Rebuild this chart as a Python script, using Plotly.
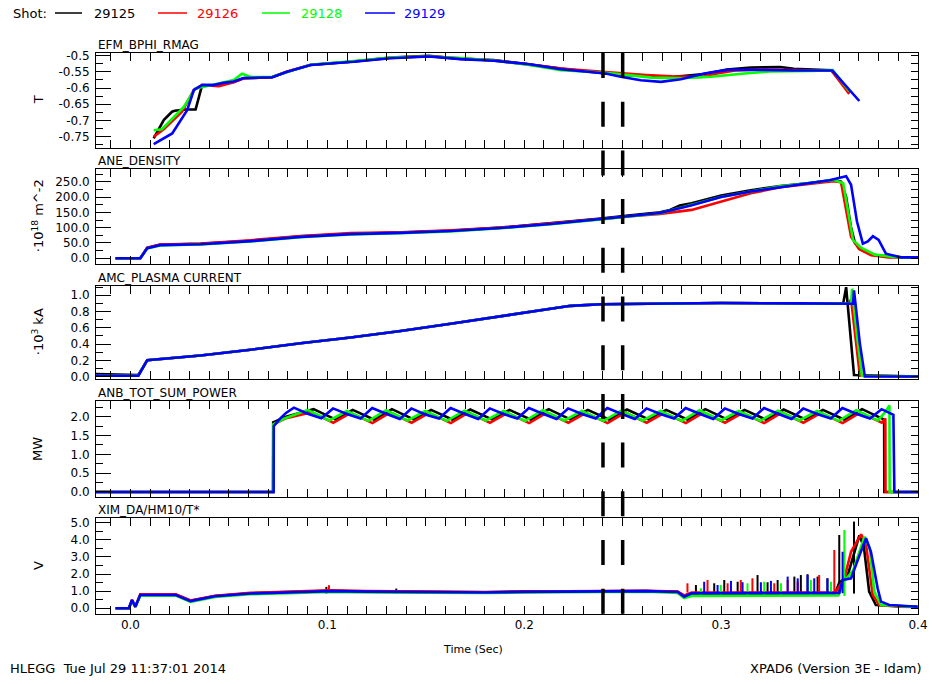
import plotly.graph_objects as go

# ---------------------------------------------------------------- shots
shots = ["29125", "29126", "29128", "29129"]
colors = ["#000000", "#ff0000", "#00ff00", "#0000ff"]

# ---------------------------------------------------------------- EFM_BPHI_RMAG (T)
bphi_t_29125 = [0.0118, 0.0169, 0.0211, 0.0225, 0.0280, 0.0331, 0.0364, 0.0450, 0.0524, 0.0575, 0.0720,
                0.0796, 0.0915, 0.1134, 0.1320, 0.1515, 0.1677, 0.1845, 0.2016, 0.2186, 0.2414, 0.2490,
                0.2620, 0.2750, 0.2900, 0.3030, 0.3150, 0.3300, 0.3370, 0.3560, 0.3651]
bphi_v_29125 = [-0.755, -0.699, -0.673, -0.670, -0.666, -0.666, -0.591, -0.590, -0.581, -0.570, -0.567,
                -0.550, -0.529, -0.518, -0.506, -0.501, -0.510, -0.514, -0.526, -0.540, -0.555, -0.560,
                -0.563, -0.566, -0.558, -0.543, -0.537, -0.535, -0.541, -0.545, -0.612]
bphi_t_29126 = [0.0118, 0.0169, 0.0262, 0.0322, 0.0364, 0.0450, 0.0524, 0.0575, 0.0720, 0.0796, 0.0915,
                0.1134, 0.1320, 0.1515, 0.1677, 0.1845, 0.2016, 0.2186, 0.2414, 0.2490, 0.2620, 0.2750,
                0.2900, 0.2980, 0.3070, 0.3200, 0.3370, 0.3560, 0.3651]
bphi_v_29126 = [-0.750, -0.727, -0.673, -0.606, -0.591, -0.594, -0.582, -0.570, -0.566, -0.549, -0.528,
                -0.518, -0.507, -0.502, -0.508, -0.515, -0.527, -0.540, -0.551, -0.555, -0.560, -0.564,
                -0.566, -0.555, -0.546, -0.543, -0.544, -0.546, -0.618]
bphi_t_29128 = [0.0118, 0.0160, 0.0271, 0.0330, 0.0420, 0.0524, 0.0567, 0.0610, 0.0720, 0.0796, 0.0915,
                0.1134, 0.1320, 0.1515, 0.1700, 0.1845, 0.2016, 0.2186, 0.2414, 0.2490, 0.2650, 0.2800,
                0.2948, 0.3117, 0.3250, 0.3450, 0.3567, 0.3651]
bphi_v_29128 = [-0.730, -0.727, -0.658, -0.601, -0.590, -0.575, -0.556, -0.566, -0.565, -0.550, -0.528,
                -0.517, -0.506, -0.503, -0.508, -0.515, -0.528, -0.545, -0.553, -0.558, -0.568, -0.570,
                -0.565, -0.555, -0.549, -0.547, -0.545, -0.610]
bphi_t_29129 = [0.0118, 0.0212, 0.0288, 0.0322, 0.0364, 0.0420, 0.0473, 0.0524, 0.0575, 0.0720, 0.0796,
                0.0915, 0.1134, 0.1320, 0.1515, 0.1677, 0.1845, 0.2016, 0.2186, 0.2414, 0.2490, 0.2592,
                0.2694, 0.2795, 0.2914, 0.3033, 0.3202, 0.3370, 0.3565, 0.3702]
bphi_v_29129 = [-0.773, -0.740, -0.668, -0.606, -0.591, -0.591, -0.584, -0.580, -0.569, -0.567, -0.550,
                -0.529, -0.519, -0.508, -0.503, -0.511, -0.516, -0.526, -0.542, -0.555, -0.565, -0.576,
                -0.581, -0.573, -0.555, -0.544, -0.544, -0.546, -0.546, -0.640]

# ---------------------------------------------------------------- ANE_DENSITY (1e18 m^-2)
ne_t_29125 = [-0.0076, 0.0050, 0.0085, 0.0150, 0.0356, 0.0610, 0.0864, 0.1118, 0.1370, 0.1626, 0.1880,
              0.2135, 0.2389, 0.2540, 0.2690, 0.2740, 0.2790, 0.2850, 0.3000, 0.3150, 0.3300, 0.3450,
              0.3570, 0.3609, 0.3635, 0.3660, 0.3680, 0.3720, 0.3787, 0.3914, 0.4000]
ne_v_29125 = [0, 0, 34, 44, 47, 57, 72, 80, 84, 90, 100, 114, 130, 140, 150, 158, 172, 180, 205, 222,
              236, 246, 255, 250, 200, 100, 50, 25, 10, 3, 2]
ne_t_29126 = [-0.0076, 0.0050, 0.0085, 0.0150, 0.0356, 0.0610, 0.0864, 0.1118, 0.1370, 0.1626, 0.1880,
              0.2135, 0.2389, 0.2540, 0.2690, 0.2850, 0.3000, 0.3150, 0.3300, 0.3450, 0.3570, 0.3609,
              0.3635, 0.3660, 0.3700, 0.3762, 0.3850, 0.4000]
ne_v_29126 = [0, 0, 35, 45, 48, 59, 73, 82, 85, 91, 100, 113, 128, 137, 145, 158, 185, 212, 232, 242,
              252, 248, 150, 70, 30, 10, 3, 2]
ne_t_29128 = [-0.0076, 0.0050, 0.0085, 0.0150, 0.0356, 0.0610, 0.0864, 0.1118, 0.1370, 0.1626, 0.1880,
              0.2135, 0.2389, 0.2540, 0.2690, 0.2850, 0.3000, 0.3150, 0.3300, 0.3450, 0.3570, 0.3620,
              0.3645, 0.3670, 0.3710, 0.3780, 0.3900, 0.4000]
ne_v_29128 = [0, 0, 32, 42, 45, 55, 69, 78, 82, 88, 98, 111, 127, 137, 147, 175, 200, 218, 235, 246,
              256, 245, 150, 60, 35, 12, 3, 2]
ne_t_29129 = [-0.0076, 0.0050, 0.0085, 0.0150, 0.0356, 0.0610, 0.0864, 0.1118, 0.1370, 0.1626, 0.1880,
              0.2135, 0.2389, 0.2540, 0.2690, 0.2846, 0.3000, 0.3150, 0.3300, 0.3450, 0.3550, 0.3635,
              0.3660, 0.3690, 0.3720, 0.3745, 0.3771, 0.3800, 0.3837, 0.3914, 0.4000]
ne_v_29129 = [0, 0, 33, 43, 46, 56, 70, 79, 83, 89, 99, 112, 128, 138, 148, 172, 200, 218, 232, 245,
              255, 268, 240, 120, 48, 55, 72, 60, 15, 3, 3]

# ---------------------------------------------------------------- AMC_PLASMA CURRENT (1e3 kA)
ip_t_29125 = [-0.0175, 0.0040, 0.0085, 0.0356, 0.0610, 0.0864, 0.1118, 0.1372, 0.1626, 0.1881, 0.2084,
              0.2236, 0.2389, 0.2643, 0.3000, 0.3400, 0.3620, 0.3635, 0.3655, 0.3675, 0.4000]
ip_v_29125 = [0.03, 0.02, 0.20, 0.26, 0.33, 0.41, 0.48, 0.56, 0.65, 0.74, 0.82,
              0.87, 0.89, 0.90, 0.905, 0.90, 0.895, 1.10, 0.60, 0.02, 0.00]
ip_t_29126 = [-0.0175, 0.0040, 0.0085, 0.0356, 0.0610, 0.0864, 0.1118, 0.1372, 0.1626, 0.1881, 0.2084,
              0.2236, 0.2389, 0.2643, 0.3000, 0.3400, 0.3650, 0.3660, 0.3685, 0.3705, 0.4000]
ip_v_29126 = [0.01, 0.01, 0.20, 0.26, 0.33, 0.41, 0.48, 0.56, 0.65, 0.74, 0.82,
              0.87, 0.89, 0.90, 0.905, 0.90, 0.895, 0.95, 0.40, 0.01, 0.00]
ip_t_29128 = [-0.0175, 0.0040, 0.0085, 0.0356, 0.0610, 0.0864, 0.1118, 0.1372, 0.1626, 0.1881, 0.2084,
              0.2236, 0.2389, 0.2643, 0.3000, 0.3400, 0.3660, 0.3665, 0.3690, 0.3715, 0.4000]
ip_v_29128 = [0.01, 0.01, 0.20, 0.26, 0.33, 0.41, 0.48, 0.56, 0.65, 0.74, 0.82,
              0.87, 0.89, 0.90, 0.905, 0.90, 0.895, 1.08, 0.50, 0.01, 0.00]
ip_t_29129 = [-0.0175, 0.0040, 0.0085, 0.0356, 0.0610, 0.0864, 0.1118, 0.1372, 0.1626, 0.1881, 0.2084,
              0.2236, 0.2389, 0.2643, 0.3000, 0.3400, 0.3670, 0.3675, 0.3705, 0.3730, 0.4000]
ip_v_29129 = [0.01, 0.01, 0.20, 0.26, 0.33, 0.41, 0.48, 0.56, 0.65, 0.74, 0.82,
              0.87, 0.89, 0.90, 0.905, 0.90, 0.895, 1.06, 0.40, 0.00, 0.00]

# ---------------------------------------------------------------- ANB_TOT_SUM_POWER (MW)
nbi_t_29125 = [-0.0175, 0.0724, 0.0725, 0.0790,
               0.0930, 0.1040, 0.1129, 0.1239, 0.1328, 0.1438, 0.1527, 0.1637, 0.1726, 0.1836,
               0.1925, 0.2035, 0.2124, 0.2234, 0.2323, 0.2433, 0.2522, 0.2632, 0.2721, 0.2831,
               0.2920, 0.3030, 0.3119, 0.3229, 0.3318, 0.3428, 0.3517, 0.3627, 0.3716, 0.3826,
               0.3828, 0.3829, 0.4000]
nbi_p_29125 = [0.0, 0.0, 1.85, 2.00,
               2.20, 1.93, 2.18, 1.92, 2.20, 1.93, 2.18, 1.92, 2.19, 1.93,
               2.18, 1.92, 2.20, 1.93, 2.18, 1.92, 2.19, 1.93, 2.18, 1.92,
               2.20, 1.93, 2.18, 1.92, 2.19, 1.93, 2.18, 1.92, 2.20, 1.93,
               1.95, 0.0, 0.0]
nbi_t_29126 = [-0.0175, 0.0726, 0.0727, 0.0785,
               0.0920, 0.1030, 0.1119, 0.1229, 0.1318, 0.1428, 0.1517, 0.1627, 0.1716, 0.1826,
               0.1915, 0.2025, 0.2114, 0.2224, 0.2313, 0.2423, 0.2512, 0.2622, 0.2711, 0.2821,
               0.2910, 0.3020, 0.3109, 0.3219, 0.3308, 0.3418, 0.3507, 0.3617, 0.3706, 0.3816,
               0.3834, 0.3835, 0.4000]
nbi_p_29126 = [0.0, 0.0, 1.80, 1.95,
               2.12, 1.84, 2.10, 1.83, 2.11, 1.84, 2.10, 1.83, 2.11, 1.84,
               2.10, 1.83, 2.11, 1.84, 2.10, 1.83, 2.11, 1.84, 2.10, 1.83,
               2.11, 1.84, 2.10, 1.83, 2.11, 1.84, 2.10, 1.83, 2.11, 1.84,
               1.95, 0.0, 0.0]
nbi_t_29128 = [-0.0175, 0.0725, 0.0726, 0.0780,
               0.0900, 0.1010, 0.1099, 0.1209, 0.1298, 0.1408, 0.1497, 0.1607, 0.1696, 0.1806,
               0.1895, 0.2005, 0.2094, 0.2204, 0.2293, 0.2403, 0.2492, 0.2602, 0.2691, 0.2801,
               0.2890, 0.3000, 0.3089, 0.3199, 0.3288, 0.3398, 0.3487, 0.3597, 0.3686, 0.3796,
               0.3830, 0.3855, 0.3856, 0.4000]
nbi_p_29128 = [0.0, 0.0, 1.80, 1.95,
               2.18, 1.90, 2.15, 1.89, 2.17, 1.90, 2.15, 1.89, 2.16, 1.90,
               2.15, 1.89, 2.17, 1.90, 2.15, 1.89, 2.16, 1.90, 2.15, 1.89,
               2.17, 1.90, 2.15, 1.89, 2.16, 1.90, 2.15, 1.89, 2.17, 1.90,
               2.10, 2.30, 0.0, 0.0]
nbi_t_29129 = [-0.0175, 0.0727, 0.0728, 0.0760, 0.0790,
               0.0830, 0.0900, 0.0970, 0.1029, 0.1099, 0.1169, 0.1228, 0.1298, 0.1368,
               0.1427, 0.1497, 0.1567, 0.1626, 0.1696, 0.1766, 0.1825, 0.1895, 0.1965,
               0.2024, 0.2094, 0.2164, 0.2223, 0.2293, 0.2363, 0.2422, 0.2492, 0.2562,
               0.2621, 0.2691, 0.2761, 0.2820, 0.2890, 0.2960, 0.3019, 0.3089, 0.3159,
               0.3218, 0.3288, 0.3358, 0.3417, 0.3487, 0.3557, 0.3616, 0.3686, 0.3756,
               0.3815, 0.3875, 0.3880, 0.4000]
nbi_p_29129 = [0.0, 0.0, 1.75, 1.95, 2.10,
               2.24, 2.08, 1.96, 2.22, 2.07, 1.95, 2.23, 2.08, 1.94,
               2.22, 2.06, 1.95, 2.23, 2.08, 1.94, 2.22, 2.07, 1.95,
               2.23, 2.08, 1.94, 2.22, 2.07, 1.95, 2.23, 2.08, 1.94,
               2.22, 2.07, 1.95, 2.23, 2.08, 1.94, 2.22, 2.07, 1.95,
               2.23, 2.08, 1.94, 2.22, 2.07, 1.95, 2.23, 2.08, 1.95,
               2.20, 2.05, 0.0, 0.0]

# ---------------------------------------------------------------- XIM_DA/HM10/T* (V)
xim_t_29125 = [-0.0076, -0.0008, 0.0008, 0.0025, 0.0050, 0.0150, 0.0230, 0.0305, 0.0430, 0.0610, 0.0860,
               0.1016, 0.1200, 0.1500, 0.1800, 0.2000, 0.2400, 0.2620, 0.2779, 0.2812, 0.2850, 0.3580,
               0.3600, 0.3640, 0.3702, 0.3725, 0.3752, 0.3786, 0.3998]
xim_v_29125 = [0.0, 0.0, 0.45, 0.08, 0.80, 0.82, 0.80, 0.44, 0.72, 0.88, 0.97,
               1.02, 0.98, 0.95, 0.94, 0.98, 1.02, 1.01, 0.96, 0.72, 0.86, 0.88,
               1.50, 1.80, 4.25, 3.60, 0.97, 0.19, 0.08]
xim_t_29126 = [-0.0076, -0.0008, 0.0008, 0.0025, 0.0050, 0.0150, 0.0230, 0.0305, 0.0430, 0.0610, 0.0860,
               0.1016, 0.1200, 0.1500, 0.1800, 0.2000, 0.2400, 0.2620, 0.2779, 0.2812, 0.2850, 0.3580,
               0.3625, 0.3660, 0.3711, 0.3735, 0.3770, 0.3803, 0.3900, 0.3998]
xim_v_29126 = [0.0, 0.0, 0.50, 0.10, 0.82, 0.84, 0.82, 0.46, 0.73, 0.90, 0.98,
               1.05, 1.00, 0.96, 0.95, 0.98, 1.03, 1.02, 0.98, 0.75, 0.92, 0.92,
               1.70, 3.30, 4.32, 3.80, 0.78, 0.19, 0.10, 0.08]
xim_t_29128 = [-0.0076, -0.0008, 0.0008, 0.0025, 0.0050, 0.0150, 0.0230, 0.0305, 0.0430, 0.0610, 0.0860,
               0.1016, 0.1200, 0.1500, 0.1800, 0.2000, 0.2400, 0.2620, 0.2779, 0.2812, 0.2850, 0.3595,
               0.3626, 0.3670, 0.3728, 0.3755, 0.3778, 0.3812, 0.3998]
xim_v_29128 = [0.0, 0.0, 0.40, 0.10, 0.75, 0.76, 0.74, 0.38, 0.66, 0.82, 0.92,
               0.96, 0.93, 0.90, 0.89, 0.93, 0.98, 0.97, 0.90, 0.60, 0.72, 0.75,
               1.60, 2.20, 4.18, 3.50, 0.97, 0.19, 0.07]
xim_t_29129 = [-0.0076, -0.0008, 0.0008, 0.0025, 0.0050, 0.0150, 0.0230, 0.0305, 0.0430, 0.0610, 0.0860,
               0.1016, 0.1200, 0.1500, 0.1800, 0.2000, 0.2400, 0.2620, 0.2779, 0.2812, 0.2850, 0.3600,
               0.3617, 0.3660, 0.3700, 0.3736, 0.3761, 0.3795, 0.3812, 0.3854, 0.3998]
xim_v_29129 = [0.0, 0.0, 0.48, 0.10, 0.78, 0.80, 0.78, 0.42, 0.70, 0.86, 0.95,
               1.00, 0.97, 0.93, 0.92, 0.96, 1.00, 1.00, 0.95, 0.68, 0.88, 0.90,
               1.65, 1.75, 3.00, 4.09, 3.30, 1.17, 0.39, 0.19, 0.09]

# short bursts on top of the XIM baseline: time, peak level, baseline level
burst_t_29125 = [0.0995, 0.1350, 0.2872, 0.2965, 0.3016, 0.3084, 0.3185, 0.3236, 0.3287, 0.3372,
                 0.3405, 0.3439, 0.3490, 0.3540, 0.3600, 0.3675]
burst_h_29125 = [1.25, 1.15, 1.36, 1.46, 1.65, 1.55, 1.94, 1.52, 1.65, 1.85,
                 1.94, 1.99, 1.85, 1.75, 4.28, 5.06]
burst_t_29126 = [0.1008, 0.2829, 0.2931, 0.3033, 0.3100, 0.3159, 0.3270, 0.3338, 0.3389, 0.3498, 0.3575]
burst_h_29126 = [1.35, 1.46, 1.65, 1.46, 1.65, 1.75, 1.46, 1.65, 1.55, 1.94, 3.40]
burst_t_29128 = [0.2897, 0.2998, 0.3134, 0.3219, 0.3304, 0.3456, 0.3558, 0.3626]
burst_h_29128 = [1.17, 1.36, 1.46, 1.55, 1.46, 1.65, 1.55, 4.57]
burst_t_29129 = [0.2914, 0.2982, 0.3050, 0.3109, 0.3202, 0.3253, 0.3338, 0.3389, 0.3439, 0.3473,
                 0.3540, 0.3617]
burst_h_29129 = [1.55, 1.36, 1.60, 1.52, 1.52, 1.60, 1.85, 1.75, 1.94, 1.75, 1.75, 3.30]
burst_base = [0.86, 0.92, 0.72, 0.88]

# analysis window markers (s)
window_t = [0.24, 0.25]

# ---------------------------------------------------------------- panel text
panel_titles = ["EFM_BPHI_RMAG", "ANE_DENSITY", "AMC_PLASMA CURRENT", "ANB_TOT_SUM_POWER", "XIM_DA/HM10/T*"]
unit_labels = ["T", "\u00b710<sup>18</sup> m^-2", "\u00b710<sup>3</sup> kA", "MW", "V"]
ytick_vals = [[-0.75, -0.7, -0.65, -0.6, -0.55, -0.5],
              [0, 50, 100, 150, 200, 250],
              [0.0, 0.2, 0.4, 0.6, 0.8, 1.0],
              [0.0, 0.5, 1.0, 1.5, 2.0],
              [0, 1, 2, 3, 4, 5]]
ytick_text = [["-0.75", "-0.7", "-0.65", "-0.6", "-0.55", "-0.5"],
              ["0.0", "50.0", "100.0", "150.0", "200.0", "250.0"],
              ["0.0", "0.2", "0.4", "0.6", "0.8", "1.0"],
              ["0.0", "0.5", "1.0", "1.5", "2.0"],
              ["0.0", "1.0", "2.0", "3.0", "4.0", "5.0"]]
xtick_vals = [0.0, 0.1, 0.2, 0.3, 0.4]
xtick_text = ["0.0", "0.1", "0.2", "0.3", "0.4"]

series = [
    [(bphi_t_29125, bphi_v_29125), (bphi_t_29126, bphi_v_29126), (bphi_t_29128, bphi_v_29128), (bphi_t_29129, bphi_v_29129)],
    [(ne_t_29125, ne_v_29125), (ne_t_29126, ne_v_29126), (ne_t_29128, ne_v_29128), (ne_t_29129, ne_v_29129)],
    [(ip_t_29125, ip_v_29125), (ip_t_29126, ip_v_29126), (ip_t_29128, ip_v_29128), (ip_t_29129, ip_v_29129)],
    [(nbi_t_29125, nbi_p_29125), (nbi_t_29126, nbi_p_29126), (nbi_t_29128, nbi_p_29128), (nbi_t_29129, nbi_p_29129)],
    [(xim_t_29125, xim_v_29125), (xim_t_29126, xim_v_29126), (xim_t_29128, xim_v_29128), (xim_t_29129, xim_v_29129)],
]
bursts = [(burst_t_29125, burst_h_29125), (burst_t_29126, burst_h_29126),
          (burst_t_29128, burst_h_29128), (burst_t_29129, burst_h_29129)]

# ---------------------------------------------------------------- layout geometry
W, H = 932, 684
ML, MR, MT, MB = 96, 14, 53, 70
PW, PH = W - ML - MR, H - MT - MB
panel_px = [(53, 147.5), (169, 263.5), (285.5, 379), (401, 497), (518, 614)]
y_ranges = [(-0.7833, -0.492), (-17, 291.5), (-0.03, 1.12), (-0.133, 2.417), (-0.333, 5.27)]
y_minor = [0.025, 25, 0.1, 0.25, 0.5]
x_range = [-0.0175, 0.4]
FONT = "DejaVu Sans"


def py(p):
    return (H - MB - p) / PH


def px(p):
    return (p - ML) / PW


fig = go.Figure()

for i, panel in enumerate(series):
    n = i + 1
    xa = "x" if n == 1 else f"x{n}"
    ya = "y" if n == 1 else f"y{n}"
    for k, (t, v) in enumerate(panel):
        fig.add_trace(go.Scatter(x=t, y=v, mode="lines", xaxis=xa, yaxis=ya,
                                 line=dict(color=colors[k], width=2.6),
                                 showlegend=False, hoverinfo="skip"))
        if n == 5:
            bt, bh = bursts[k]
            sx, sy = [], []
            for tt, hh in zip(bt, bh):
                sx += [tt, tt, None]
                sy += [burst_base[k], hh, None]
            fig.add_trace(go.Scatter(x=sx, y=sy, mode="lines", xaxis=xa, yaxis=ya,
                                     line=dict(color=colors[k], width=2),
                                     showlegend=False, hoverinfo="skip"))
    # companion axis carrying the right-hand tick marks
    fig.add_trace(go.Scatter(x=[None], y=[None], xaxis=xa, yaxis=f"y{n + 5}",
                             showlegend=False, hoverinfo="skip"))

axis_line = dict(showline=True, linecolor="black", linewidth=1, showgrid=False, zeroline=False)
layout = dict(
    width=W, height=H, margin=dict(l=ML, r=MR, t=MT, b=MB, autoexpand=False),
    paper_bgcolor="white", plot_bgcolor="white",
    font=dict(family=FONT, size=12, color="black"),
    showlegend=False,
)

for i in range(5):
    n = i + 1
    top, bot = panel_px[i]
    xkey = "xaxis" if n == 1 else f"xaxis{n}"
    ykey = "yaxis" if n == 1 else f"yaxis{n}"
    layout[xkey] = dict(
        axis_line, domain=[0, 1], anchor="y" if n == 1 else f"y{n}", range=x_range,
        mirror="allticks", ticks="inside", ticklen=8, tickwidth=1, tickcolor="black",
        tickmode="array", tickvals=xtick_vals, ticktext=xtick_text,
        minor=dict(ticks="inside", tickmode="linear", tick0=0, dtick=0.01, ticklen=4,
                   tickcolor="black", tickwidth=1),
        showticklabels=(n == 5), tickfont=dict(size=12),
    )
    if n > 1:
        layout[xkey]["matches"] = "x"
    layout[ykey] = dict(
        axis_line, domain=[py(bot), py(top)], anchor="x" if n == 1 else f"x{n}",
        range=list(y_ranges[i]), mirror=True, ticks="inside", ticklen=15, tickwidth=1,
        tickcolor="black", tickmode="array", tickvals=ytick_vals[i], ticktext=ytick_text[i],
        minor=dict(ticks="inside", tickmode="linear", tick0=0, dtick=y_minor[i], ticklen=7,
                   tickcolor="black", tickwidth=1),
        tickfont=dict(size=12), ticklabelstandoff=3,
    )
    layout[f"yaxis{n + 5}"] = dict(
        overlaying="y" if n == 1 else f"y{n}", anchor="x" if n == 1 else f"x{n}", side="right",
        range=list(y_ranges[i]), showline=False, showgrid=False, zeroline=False,
        ticks="inside", ticklen=7, tickwidth=1, tickcolor="black",
        tickmode="linear", tick0=0, dtick=y_minor[i], showticklabels=False,
    )

fig.update_layout(**layout)

annotations = []
for i in range(5):
    top, bot = panel_px[i]
    annotations.append(dict(text=panel_titles[i], xref="paper", yref="paper", x=0, y=py(top),
                            xanchor="left", yanchor="bottom", showarrow=False,
                            font=dict(size=12), yshift=-1))
    annotations.append(dict(text=unit_labels[i], xref="paper", yref="paper", x=px(38),
                            y=py((top + bot) / 2), xanchor="center", yanchor="middle",
                            textangle=-90, showarrow=False, font=dict(size=13)))

# shot key along the top
annotations.append(dict(text="Shot:", xref="paper", yref="paper", x=px(11), y=py(13),
                        xanchor="left", yanchor="middle", showarrow=False, font=dict(size=13)))
key_line_px = [(55, 82), (158, 187), (262, 290), (365, 395)]
key_text_px = [92, 195, 299, 402]
shapes = []
for k, shot in enumerate(shots):
    x0, x1 = key_line_px[k]
    shapes.append(dict(type="line", xref="paper", yref="paper", x0=px(x0), x1=px(x1),
                       y0=py(13), y1=py(13), line=dict(color=colors[k], width=1.5)))
    annotations.append(dict(text=shot, xref="paper", yref="paper", x=px(key_text_px[k]), y=py(13),
                            xanchor="left", yanchor="middle", showarrow=False,
                            font=dict(size=13, color=colors[k])))

annotations.append(dict(text="Time (Sec)", xref="paper", yref="paper", x=px(473), y=py(649),
                        xanchor="center", yanchor="middle", showarrow=False, font=dict(size=11)))
annotations.append(dict(text="HLEGG  Tue Jul 29 11:37:01 2014", xref="paper", yref="paper",
                        x=px(8), y=py(668), xanchor="left", yanchor="middle", showarrow=False,
                        font=dict(size=13)))
annotations.append(dict(text="XPAD6 (Version 3E - Idam)", xref="paper", yref="paper",
                        x=px(923), y=py(668), xanchor="right", yanchor="middle", showarrow=False,
                        font=dict(size=13)))

for t in window_t:
    shapes.append(dict(type="line", xref="x", yref="paper", x0=t, x1=t, y0=1, y1=0,
                       line=dict(color="black", width=3.5, dash="25px,23.7px"), layer="above"))

fig.update_layout(annotations=annotations, shapes=shapes)
fig.write_html("out.html")
